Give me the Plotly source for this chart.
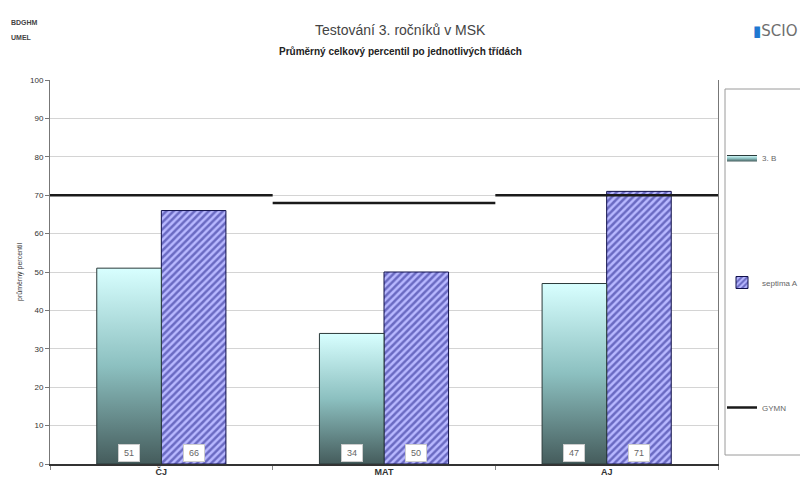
import plotly.graph_objects as go

categories = ["ČJ", "MAT", "AJ"]
series_b = [51, 34, 47]          # 3. B
series_sept = [66, 50, 71]       # septima A
series_gymn = [70, 68, 70]       # GYMN
y_ticks = list(range(0, 101, 10))

# page body has an 8px default margin; lay out in page pixels and convert
OFF = 8
W, H = 808 - OFF, 481 - OFF
L_PX, R_PX, T_PX, B_PX = 50, 718, 80, 464          # plot area in page pixels
ML, MR, MT, MB = L_PX - OFF, W - (R_PX - OFF), T_PX - OFF, H - (B_PX - OFF)
PW, PH = R_PX - L_PX, B_PX - T_PX

def px_x(px):
    return (px - L_PX) / PW

def px_y(py):
    return (B_PX - py) / PH

FONT = "Liberation Sans, Arial, sans-serif"
BW = 0.29
xs = list(range(len(categories)))

fig = go.Figure()

# 3. B bars with vertical gradient (one polygon per bar, built from data)
for i, v in enumerate(series_b):
    fig.add_trace(go.Scatter(
        x=[xs[i] - BW, xs[i] - BW, xs[i], xs[i], xs[i] - BW],
        y=[0, v, v, 0, 0],
        mode="lines", fill="toself",
        fillgradient=dict(type="vertical",
                          colorscale=[[0, "#455c5c"], [0.5, "#8cc0c0"], [1, "#d8ffff"]]),
        line=dict(color="#2a3a3a", width=1),
        name="3. B", legendgroup="b", showlegend=(i == 0),
        hoverinfo="text", text=f"{categories[i]}: {v}",
    ))

fig.add_trace(go.Bar(
    x=xs, y=series_sept, width=BW, offset=0, name="septima A", legendgroup="s",
    marker=dict(color="#b4b4ff",
                pattern=dict(shape="/", fgcolor="#1c1c86", bgcolor="#b8b8ff",
                             size=5, solidity=0.5),
                line=dict(color="#10104a", width=1)),
))

gx, gy = [], []
for i, v in enumerate(series_gymn):
    gx += [xs[i] - 0.5, xs[i] + 0.5, None]
    gy += [v, v, None]
fig.add_trace(go.Scatter(x=gx, y=gy, mode="lines", name="GYMN", legendgroup="g",
                         line=dict(color="#1a1a1a", width=2.5)))

annotations = []
for i in xs:
    for xoff, val in ((-BW / 2, series_b[i]), (BW / 2, series_sept[i])):
        annotations.append(dict(
            x=xs[i] + xoff, y=0, xref="x", yref="y", text=str(val),
            showarrow=False, yanchor="bottom", yshift=2,
            font=dict(family=FONT, size=9, color="#666"),
            bgcolor="white", bordercolor="#cccccc", borderwidth=1, borderpad=3,
            width=14,
        ))

annotations += [
    dict(x=px_x(400), y=px_y(20), xref="paper", yref="paper", text="Testování 3. ročníků v MSK",
         showarrow=False, font=dict(family=FONT, size=14, color="#444")),
    dict(x=px_x(400), y=px_y(44), xref="paper", yref="paper",
         text="<b>Průměrný celkový percentil po jednotlivých třídách</b>",
         showarrow=False, font=dict(family=FONT, size=10, color="#222")),
    dict(x=px_x(9), y=px_y(17), xref="paper", yref="paper", text="<b>BDGHM</b>",
         showarrow=False, xanchor="left", font=dict(family=FONT, size=7, color="#444")),
    dict(x=px_x(9), y=px_y(32), xref="paper", yref="paper", text="<b>UMEL</b>",
         showarrow=False, xanchor="left", font=dict(family=FONT, size=7, color="#444")),
    dict(x=px_x(800), y=px_y(20), xref="paper", yref="paper",
         text='<span style="color:#1f78d1">▮</span>SCIO',
         showarrow=False, xanchor="right", font=dict(family="DejaVu Sans, sans-serif", size=15, color="#6f6f6f")),
]

shapes = [dict(type="rect", xref="paper", yref="paper",
               x0=px_x(725), x1=px_x(812), y0=px_y(455), y1=px_y(89),
               line=dict(color="#9a9a9a", width=1), fillcolor="rgba(0,0,0,0)", layer="below")]

fig.update_layout(
    width=W, height=H,
    margin=dict(l=ML, r=MR, t=MT, b=MB, autoexpand=False),
    paper_bgcolor="white", plot_bgcolor="white",
    font=dict(family=FONT, color="#333"),
    showlegend=True,
    legend=dict(x=px_x(722), y=px_y(143), xanchor="left", yanchor="top",
                traceorder="grouped", tracegroupgap=106,
                font=dict(family=FONT, size=8, color="#666"),
                bgcolor="rgba(0,0,0,0)", itemwidth=30),
    annotations=annotations, shapes=shapes,
    xaxis=dict(range=[-0.5, 2.5], tickvals=xs, ticktext=[f"<b>{c}</b>" for c in categories],
               showgrid=False, zeroline=False, showline=True, linecolor="#333", linewidth=1.5,
               ticks="", tickfont=dict(family=FONT, size=9, color="#333"),
               ticklabelstandoff=-2,
               minor=dict(tick0=0.5, dtick=1, ticks="outside", ticklen=4, tickcolor="#888"),
               automargin=False, fixedrange=True),
    yaxis=dict(range=[0, 100], tickvals=y_ticks, showgrid=True, gridcolor="#d4d4d4",
               zeroline=False, showline=True, linecolor="#777", linewidth=1, mirror=True,
               ticks="outside", ticklen=4, tickcolor="#777",
               tickprefix="<b>", ticksuffix="</b>",
               tickfont=dict(family=FONT, size=8, color="#333"),
               title=dict(text="průměrný percentil", font=dict(family=FONT, size=7, color="#333"), standoff=6),
               automargin=False, fixedrange=True),
)

fig.write_html("out.html")
